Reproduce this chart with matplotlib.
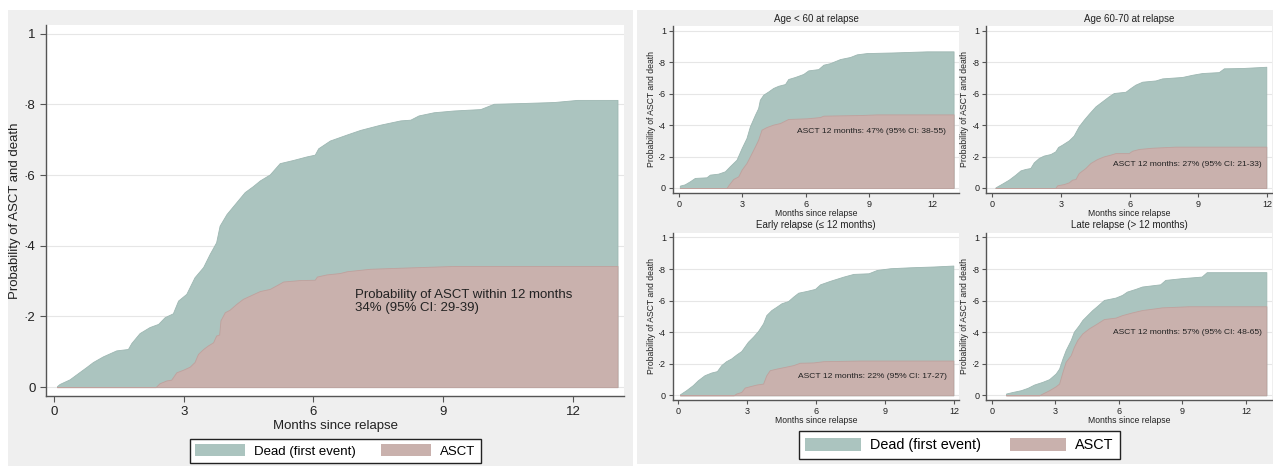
import matplotlib
matplotlib.use("Agg")
import matplotlib.pyplot as plt
from matplotlib.patches import Patch, Rectangle

plt.rcParams['font.family'] = ['Liberation Sans', 'DejaVu Sans']

# ---- data ----
# overall: top curve = ASCT + death, bottom curve = ASCT
main_t_months = [0.07, 0.13, 0.36, 0.56, 0.75, 0.9, 1.13, 1.44, 1.71, 1.79, 1.98, 2.21, 2.41, 2.56,
                 2.75, 2.87, 3.06, 3.25, 3.45, 3.6, 3.75, 3.83, 3.99, 4.22, 4.41, 4.6, 4.76, 4.99,
                 5.22, 5.53, 5.84, 6.03, 6.11, 6.38, 6.77, 7.08, 7.55, 8.01, 8.24, 8.43, 8.78, 9.24,
                 9.86, 10.17, 10.79, 11.56, 12.1, 13.03]
main_total = [0.003, 0.009, 0.022, 0.04, 0.057, 0.071, 0.087, 0.104, 0.108, 0.125, 0.153, 0.17, 0.179,
              0.198, 0.209, 0.245, 0.264, 0.311, 0.34, 0.377, 0.41, 0.457, 0.49, 0.524, 0.552, 0.569,
              0.585, 0.602, 0.634, 0.643, 0.653, 0.658, 0.676, 0.698, 0.715, 0.728, 0.743, 0.755,
              0.757, 0.769, 0.778, 0.783, 0.787, 0.802, 0.804, 0.807, 0.813, 0.813]
main_a_months = [0.07, 2.35, 2.44, 2.6, 2.71, 2.83, 2.98, 3.14, 3.25, 3.33, 3.45, 3.56, 3.68, 3.75,
                 3.82, 3.85, 3.95, 4.06, 4.22, 4.37, 4.53, 4.76, 4.99, 5.14, 5.3, 5.68, 6.03, 6.08,
                 6.3, 6.61, 6.77, 7.31, 8.01, 9.24, 13.03]
main_asct = [0, 0, 0.011, 0.019, 0.021, 0.042, 0.049, 0.058, 0.071, 0.094, 0.108, 0.118, 0.127, 0.146,
             0.149, 0.189, 0.212, 0.219, 0.236, 0.25, 0.259, 0.272, 0.278, 0.288, 0.299, 0.303, 0.304,
             0.313, 0.319, 0.323, 0.328, 0.335, 0.338, 0.343, 0.343]

# Age < 60
age60_t_months = [0.05, 0.28, 0.52, 0.76, 1.31, 1.47, 1.86, 2.18, 2.41, 2.73, 2.97, 3.2, 3.36, 3.6,
                  3.75, 3.83, 3.99, 4.23, 4.46, 4.7, 5.02, 5.17, 5.49, 5.88, 6.12, 6.59, 6.83, 7.15,
                  7.62, 8.09, 8.41, 8.88, 10.14, 11.72, 12.98]
age60_total = [0.015, 0.023, 0.042, 0.064, 0.068, 0.085, 0.091, 0.106, 0.138, 0.18, 0.254, 0.318,
               0.392, 0.466, 0.508, 0.561, 0.593, 0.614, 0.636, 0.65, 0.661, 0.693, 0.706, 0.725,
               0.748, 0.756, 0.784, 0.794, 0.82, 0.833, 0.85, 0.858, 0.862, 0.869, 0.869]
age60_a_months = [0.05, 2.26, 2.33, 2.57, 2.81, 2.97, 3.2, 3.36, 3.6, 3.75, 3.91, 4.15, 4.46, 4.78,
                  5.17, 6.04, 6.67, 6.83, 8.56, 9.35, 12.98]
age60_asct = [0, 0, 0.015, 0.057, 0.074, 0.117, 0.159, 0.201, 0.265, 0.307, 0.371, 0.388, 0.403,
              0.413, 0.439, 0.443, 0.451, 0.46, 0.464, 0.468, 0.468]

# Age 60-70
age70_t_months = [0.15, 0.44, 0.73, 1.02, 1.24, 1.45, 1.67, 1.82, 2.04, 2.25, 2.55, 2.76, 2.88, 3.05,
                  3.35, 3.56, 3.78, 4.0, 4.22, 4.51, 4.8, 5.09, 5.31, 5.82, 6.04, 6.25, 6.55, 7.13,
                  7.42, 8.29, 8.73, 9.16, 9.89, 10.11, 10.91, 11.96]
age70_total = [0.004, 0.028, 0.053, 0.085, 0.112, 0.121, 0.127, 0.163, 0.191, 0.206, 0.216, 0.233,
               0.261, 0.275, 0.303, 0.333, 0.392, 0.434, 0.472, 0.519, 0.551, 0.583, 0.604, 0.612,
               0.636, 0.657, 0.676, 0.684, 0.697, 0.706, 0.72, 0.731, 0.737, 0.761, 0.763, 0.771]
age70_a_months = [0.15, 2.76, 2.84, 3.13, 3.35, 3.49, 3.64, 3.78, 4.07, 4.29, 4.58, 4.87, 5.16, 5.38,
                  5.96, 6.11, 6.4, 6.98, 8.0, 11.96]
age70_asct = [0, 0, 0.017, 0.025, 0.036, 0.053, 0.057, 0.095, 0.127, 0.159, 0.184, 0.201, 0.212,
              0.222, 0.222, 0.237, 0.248, 0.256, 0.263, 0.263]

# Early relapse (<= 12 months)
early_t_months = [0.07, 0.34, 0.63, 0.85, 1.14, 1.43, 1.68, 1.87, 2.08, 2.3, 2.52, 2.74, 3.03, 3.25,
                  3.47, 3.69, 3.83, 4.05, 4.27, 4.49, 4.78, 5.0, 5.22, 5.58, 5.95, 6.17, 6.6, 7.19,
                  7.62, 8.28, 8.64, 9.23, 10.1, 11.12, 11.97]
early_total = [0.006, 0.032, 0.064, 0.095, 0.127, 0.144, 0.153, 0.191, 0.216, 0.233, 0.258, 0.28,
               0.339, 0.371, 0.407, 0.456, 0.508, 0.54, 0.561, 0.583, 0.597, 0.625, 0.65, 0.661,
               0.674, 0.703, 0.725, 0.752, 0.769, 0.773, 0.794, 0.805, 0.811, 0.816, 0.822]
early_a_months = [0.07, 2.41, 2.52, 2.74, 2.89, 3.1, 3.4, 3.69, 3.83, 3.98, 4.27, 4.64, 5.0, 5.29,
                  5.87, 6.31, 7.92, 11.97]
early_asct = [0, 0, 0.011, 0.021, 0.049, 0.057, 0.068, 0.074, 0.127, 0.159, 0.169, 0.18, 0.191,
              0.206, 0.208, 0.216, 0.22, 0.22]

# Late relapse (> 12 months)
late_t_months = [0.66, 0.97, 1.36, 1.68, 1.99, 2.38, 2.7, 3.01, 3.17, 3.33, 3.48, 3.72, 3.87, 4.11,
                 4.27, 4.5, 4.74, 4.97, 5.29, 5.84, 6.15, 6.38, 6.78, 7.09, 7.95, 8.19, 8.97, 9.91,
                 10.15, 12.97]
late_total = [0.011, 0.021, 0.032, 0.047, 0.068, 0.085, 0.102, 0.138, 0.169, 0.233, 0.286, 0.35,
              0.403, 0.445, 0.477, 0.508, 0.54, 0.566, 0.604, 0.619, 0.636, 0.657, 0.674, 0.689,
              0.703, 0.731, 0.742, 0.752, 0.78, 0.78]
late_a_months = [0.66, 2.23, 2.38, 2.7, 3.01, 3.17, 3.33, 3.48, 3.72, 3.87, 4.03, 4.27, 4.58, 4.89,
                 5.29, 5.84, 6.15, 6.62, 7.09, 7.72, 8.03, 9.29, 12.97]
late_asct = [0, 0, 0.011, 0.032, 0.057, 0.074, 0.148, 0.212, 0.254, 0.307, 0.35, 0.392, 0.424,
             0.449, 0.483, 0.492, 0.508, 0.525, 0.54, 0.551, 0.557, 0.564, 0.564]

y_ticks = [0, 0.2, 0.4, 0.6, 0.8, 1]
y_tick_labels = ['0', '\u00b72', '\u00b74', '\u00b76', '\u00b78', '1']
x_ticks = [0, 3, 6, 9, 12]
legend_labels = ['Dead (first event)', 'ASCT']

TEAL = '#abc4bf'
PINK = '#c9b1ad'
BG = '#efefef'
AXC = '#555555'


def draw_panel(ax, t_x, t_y, a_x, a_y, xlim, ylim, fs, tick_len, pad):
    ax.set_facecolor('white')
    ax.fill_between(t_x, 0, t_y, color=TEAL, edgecolor='#9db7b2', linewidth=0.6, zorder=2)
    ax.fill_between(a_x, 0, a_y, color=PINK, edgecolor='#bfa19d', linewidth=0.6, zorder=3)
    ax.set_xlim(*xlim)
    ax.set_ylim(*ylim)
    ax.set_yticks(y_ticks)
    ax.set_yticklabels(y_tick_labels)
    ax.set_xticks(x_ticks)
    ax.grid(axis='y', color='#e6e6e6', linewidth=0.8, zorder=0)
    ax.set_axisbelow(True)
    for s in ['top', 'right']:
        ax.spines[s].set_visible(False)
    for s in ['left', 'bottom']:
        ax.spines[s].set_color(AXC)
        ax.spines[s].set_linewidth(1.0)
    ax.tick_params(colors=AXC, labelcolor='#222222', labelsize=fs, length=tick_len, width=0.8, pad=pad)


fig = plt.figure(figsize=(12.73, 4.69), dpi=100, facecolor='white')
fig.patches.append(Rectangle((0.0063, 0.0064), 0.4910, 0.9723, transform=fig.transFigure,
                             facecolor=BG, edgecolor='none', zorder=-10))
fig.patches.append(Rectangle((0.5004, 0.0107), 0.4996, 0.9680, transform=fig.transFigure,
                             facecolor=BG, edgecolor='none', zorder=-10))

# ---- main panel ----
ax = fig.add_axes([0.0361, 0.1557, 0.4544, 0.7910])
draw_panel(ax, main_t_months, main_total, main_a_months, main_asct,
           (-0.185, 13.19), (-0.025, 1.025), 9.5, 4, 3.5)
ax.set_xlabel('Months since relapse', fontsize=9.5, color='#222222')
ax.set_ylabel('Probability of ASCT and death', fontsize=9.5, color='#222222')
ax.xaxis.set_label_coords(0.5, -0.066)
ax.yaxis.set_label_coords(-0.043, 0.5)
ax.text(6.96, 0.2425, 'Probability of ASCT within 12 months\n34% (95% CI: 29-39)',
        fontsize=9.5, ha='left', va='center', linespacing=1.05, color='#222222', zorder=5)

fig.legend(handles=[Patch(facecolor=TEAL, edgecolor='none'), Patch(facecolor=PINK, edgecolor='none')],
           labels=legend_labels, loc='center', bbox_to_anchor=(0.2634, 0.0387), ncol=2,
           fontsize=9.5, frameon=True, fancybox=False, edgecolor='#222222', facecolor='white',
           handlelength=3.8, handleheight=1.0, handletextpad=0.7, columnspacing=1.9,
           borderpad=0.4, framealpha=1)

# ---- by-group panels ----
panels = [
    ('Age < 60 at relapse', age60_t_months, age60_total, age60_a_months, age60_asct,
     [0.5287, 0.5891, 0.2247, 0.3554], (-0.27, 13.24), 'ASCT 12 months: 47% (95% CI: 38-55)', (5.58, 0.36), 1.040),
    ('Age 60-70 at relapse', age70_t_months, age70_total, age70_a_months, age70_asct,
     [0.7749, 0.5891, 0.2247, 0.3554], (-0.244, 12.23), 'ASCT 12 months: 27% (95% CI: 21-33)', (5.29, 0.148), 1.040),
    ('Early relapse (\u2264 12 months)', early_t_months, early_total, early_a_months, early_asct,
     [0.5287, 0.1471, 0.2247, 0.3567], (-0.23, 12.22), 'ASCT 12 months: 22% (95% CI: 17-27)', (5.2, 0.119), 1.046),
    ('Late relapse (> 12 months)', late_t_months, late_total, late_a_months, late_asct,
     [0.7749, 0.1471, 0.2247, 0.3567], (-0.265, 13.26), 'ASCT 12 months: 57% (95% CI: 48-65)', (5.71, 0.396), 1.046),
]

for title, tx, ty, axx, ay, pos, xl, note, note_xy, title_y in panels:
    sub = fig.add_axes(pos)
    draw_panel(sub, tx, ty, axx, ay, xl, (-0.03, 1.03), 6.5, 3, 2)
    sub.text(0.5, title_y, title, transform=sub.transAxes, ha='center', va='center',
             fontsize=7, color='#222222')
    sub.set_xlabel('Months since relapse', fontsize=6.2, color='#222222')
    sub.set_ylabel('Probability of ASCT and death', fontsize=6.2, color='#222222')
    sub.xaxis.set_label_coords(0.5, -0.095)
    sub.yaxis.set_label_coords(-0.061, 0.5)
    sub.text(note_xy[0], note_xy[1], note, fontsize=6.1, ha='left', va='center',
             color='#222222', zorder=5)

fig.legend(handles=[Patch(facecolor=TEAL, edgecolor='none'), Patch(facecolor=PINK, edgecolor='none')],
           labels=legend_labels, loc='center', bbox_to_anchor=(0.7535, 0.0512), ncol=2,
           fontsize=10.4, frameon=True, fancybox=False, edgecolor='#222222', facecolor='white',
           handlelength=3.86, handleheight=1.07, handletextpad=0.62, columnspacing=2.05,
           borderpad=0.43, framealpha=1)

fig.savefig('out.png', dpi=100, facecolor='white')
